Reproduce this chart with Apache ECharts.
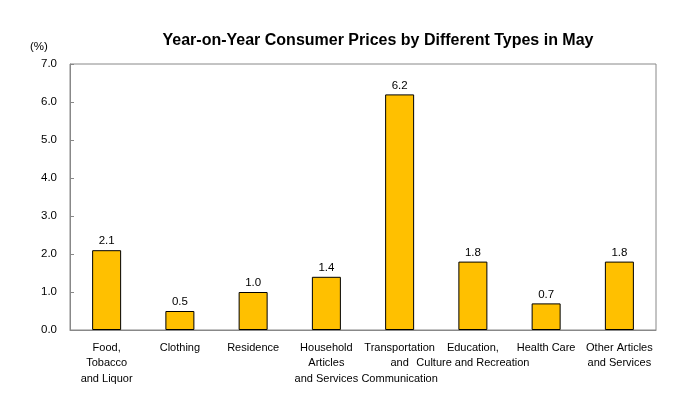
<!DOCTYPE html>
<html><head><meta charset="utf-8">
<script src="https://cdn.jsdelivr.net/npm/echarts@6/dist/echarts.min.js"></script>
<style>html,body{margin:0;padding:0;background:#fff}#c{width:684px;height:396px}</style>
</head><body><div id="c"></div>
<script>
var categories = ["Food,\nTobacco\nand Liquor", "Clothing", "Residence", "Household\nArticles\nand Services", "Transportation\nand\nCommunication", "Education,\nCulture and Recreation", "Health Care", "Other Articles\nand Services"];
var values = [2.1, 0.5, 1.0, 1.4, 6.2, 1.8, 0.7, 1.8];
var yMin = 0, yMax = 7, yStep = 1;
var titleText = "Year-on-Year Consumer Prices by Different Types in May";
var unitText = "(%)";

var font = "Liberation Sans, Arial, sans-serif";
var chart = echarts.init(document.getElementById('c'), null, {renderer: 'canvas'});
chart.setOption({
  animation: false,
  title: {text: titleText, left: 373, top: 28, textAlign: 'center',
    textStyle: {fontFamily: font, fontSize: 16, fontWeight: 'bold', color: '#000'}},
  grid: {left: 70, right: 28, top: 64, bottom: 66, show: true, borderColor: '#888', borderWidth: 1, backgroundColor: 'transparent'},
  graphic: [{type: 'text', left: 30, top: 41, style: {text: unitText, font: '11.5px ' + font, fill: '#000'}}],
  xAxis: {type: 'category', data: categories,
    axisLine: {lineStyle: {color: '#888'}}, axisTick: {show: false},
    axisLabel: {interval: 0, margin: 10, fontFamily: font, fontSize: 11, lineHeight: 15.5, color: '#000'}},
  yAxis: {type: 'value', min: yMin, max: yMax, interval: yStep,
    axisLine: {show: true, lineStyle: {color: '#888'}},
    axisTick: {show: true, inside: true, length: 4, lineStyle: {color: '#888'}},
    splitLine: {show: false},
    axisLabel: {margin: 13, fontFamily: font, fontSize: 11.5, color: '#000', formatter: function(v){return v.toFixed(1);}}},
  series: [{type: 'bar', data: values, barWidth: 29,
    itemStyle: {color: '#FFC000', borderColor: '#000', borderWidth: 1},
    label: {show: true, position: 'top', distance: 3, fontFamily: font, fontSize: 11.5, color: '#000', formatter: function(p){return p.value.toFixed(1);}}}]
});
</script></body></html>
